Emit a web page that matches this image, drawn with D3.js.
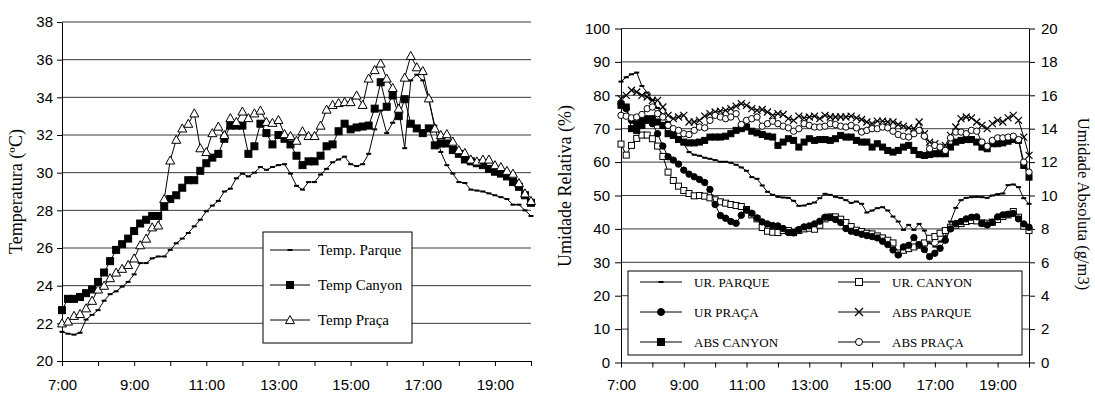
<!DOCTYPE html>
<html>
<head>
<meta charset="utf-8">
<script src="https://cdn.jsdelivr.net/npm/d3@7"></script>
<style>
  body { margin: 0; background: #fff; }
  svg { display: block; }
</style>
</head>
<body>
<svg id="chart" width="1095" height="395"></svg>
<script>
// readings every 10 minutes, 7:00 -> 20:00
const times = d3.range(0, 79).map((i) => 7 + i / 6)
const hourTicks = d3.range(7, 21)
const labelHours = [7, 9, 11, 13, 15, 17, 19]
const hourLabels = ['7:00', '9:00', '11:00', '13:00', '15:00', '17:00', '19:00']

// left chart, temperature (ºC)
const tempParque = [21.55, 21.45, 21.4, 21.5, 22.2, 22.45, 22.7, 23.2, 23.55, 23.7,
  23.95, 24.2, 24.6, 25.2, 25.2, 25.45, 25.55, 25.55, 25.9, 26.25,
  26.5, 26.8, 27.15, 27.5, 27.95, 28.25, 28.5, 29.0, 29.15, 29.7,
  29.95, 29.8, 30.0, 30.3, 30.15, 30.3, 30.4, 30.45, 29.95, 29.3,
  29.1, 29.5, 29.5, 29.9, 30.2, 30.55, 30.7, 30.85, 30.45, 30.35,
  30.45, 31.0, 32.3, 33.3, 32.1, 32.65, 33.35, 31.3, 34.9, 35.2,
  34.9, 33.85, 32.5, 31.1, 30.4, 29.95, 29.5, 29.45, 29.1, 29.05,
  29.0, 28.9, 28.8, 28.7, 28.6, 28.3, 28.3, 28.0, 27.7]
const tempCanyon = [22.7, 23.3, 23.3, 23.4, 23.6, 23.8, 24.2, 24.7, 25.3, 25.9,
  26.2, 26.5, 26.9, 27.3, 27.5, 27.7, 27.7, 28.2, 28.6, 28.8,
  29.2, 29.6, 29.6, 30.1, 30.5, 30.8, 31.0, 31.8, 32.5, 32.5,
  32.5, 31.0, 31.4, 32.6, 32.1, 31.5, 32.0, 31.8, 31.5, 30.9,
  30.4, 30.6, 30.6, 30.9, 31.4, 31.5, 32.2, 32.6, 32.3, 32.4,
  32.45, 32.5, 33.4, 34.8, 33.5, 34.1, 33.0, 33.9, 32.6, 32.35,
  32.1, 32.35, 31.45, 31.55, 31.55, 31.2, 31.0, 30.7, 30.6, 30.5,
  30.4, 30.2, 30.05, 29.95, 29.8, 29.5, 29.25, 28.8, 28.4]
const tempPraca = [22.0, 22.1, 22.4, 22.5, 22.8, 23.2, 23.8, 24.0, 24.4, 24.7,
  24.9, 25.1, 25.45, 26.15, 26.5, 27.1, 27.2, 28.6, 30.65, 31.75,
  32.35, 32.6, 33.15, 31.3, 31.1, 32.1, 32.45, 32.0, 32.9, 32.7,
  33.25, 32.9, 33.15, 33.3, 32.7, 32.65, 32.8, 32.05, 31.95, 31.7,
  32.2, 31.95, 31.95, 32.5, 33.35, 33.6, 33.7, 33.75, 33.75, 34.1,
  33.6, 35.0, 35.45, 35.8, 35.0, 34.5, 33.4, 35.05, 36.2, 35.6,
  35.4, 33.95, 32.35, 32.0, 32.05, 31.65, 31.2, 31.05, 30.7, 30.6,
  30.7, 30.7, 30.4, 30.3, 30.1, 29.95, 29.45, 28.9, 28.5]
const tempTicks = [20, 22, 24, 26, 28, 30, 32, 34, 36, 38]

// right chart, relative humidity (%) on left axis
const urParque = [84.1, 85.4, 86.3, 86.8, 82.8, 80.8, 78.6, 76.2, 74.3, 72.0,
  69.6, 67.2, 65.4, 63.0, 62.2, 61.9, 61.3, 61.0, 60.6, 60.1,
  60.1, 59.8, 59.2, 58.4, 57.4, 55.5, 55.0, 53.0, 51.1, 50.2,
  49.6, 49.4, 49.3, 48.4, 46.9, 47.0, 47.5, 47.9, 49.2, 50.5,
  50.2, 49.6, 49.3, 48.6, 47.8, 48.2, 47.5, 44.9, 45.5, 46.2,
  46.5, 45.5, 43.7, 42.2, 39.7, 41.2, 39.7, 41.5, 39.5, 35.7,
  34.7, 36.2, 37.8, 42.2, 46.3, 48.6, 49.3, 49.5, 49.6, 49.5,
  49.3, 50.0, 50.4, 50.6, 53.1, 53.3, 52.5, 49.2, 47.5]
const urCanyon = [65.4, 62.1, 65.0, 67.1, 68.1, 68.1, 67.0, 64.8, 61.7, 57.0,
  54.5, 52.8, 51.5, 50.6, 49.9, 50.0, 49.8, 49.3, 48.7, 48.1,
  47.7, 47.3, 47.0, 46.7, 45.8, 44.2, 43.0, 40.4, 39.3, 39.0,
  38.9, 39.5, 39.5, 38.9, 39.5, 40.0, 40.2, 39.9, 41.1, 43.0,
  43.6, 43.6, 42.9, 41.9, 40.7, 39.6, 39.2, 38.7, 38.5, 37.9,
  37.3, 36.6, 35.8, 32.8, 33.6, 34.1, 34.6, 35.1, 35.8, 37.2,
  37.7, 38.7, 39.5, 40.5, 41.1, 41.6, 42.2, 42.5, 42.4, 41.8,
  41.7, 42.0, 42.8, 43.7, 44.2, 45.2, 43.5, 40.8, 39.5]
const urPraca = [77.5, 76.0, 72.5, 71.5, 72.5, 73.0, 71.5, 68.5, 64.8, 61.6,
  60.6, 59.4, 57.6, 56.4, 55.6, 54.8, 53.9, 51.8, 47.3, 44.0,
  43.2, 42.2, 41.7, 44.1, 45.6, 44.7, 43.3, 42.1, 41.5, 41.0,
  40.9, 40.1, 38.9, 38.8, 39.8, 40.6, 40.9, 41.5, 42.3, 43.5,
  43.4, 42.8, 41.9, 40.1, 39.3, 38.9, 38.4, 38.0, 37.7, 37.3,
  36.3, 35.3, 33.7, 32.2, 34.6, 35.1, 37.4, 35.3, 33.8, 31.7,
  32.7, 34.2, 36.6, 40.0, 41.6, 42.2, 43.0, 43.5, 43.6, 41.6,
  41.2, 42.0, 43.6, 44.2, 44.4, 44.6, 43.0, 41.5, 40.5]

// right chart, absolute humidity (g/m3) on right axis
const absParque = [15.8, 16.0, 16.3, 16.2, 16.0, 15.9, 15.7, 15.7, 15.3, 14.8,
  14.6, 14.7, 14.8, 14.4, 14.4, 14.5, 14.75, 14.9, 15.0, 15.05,
  15.1, 15.2, 15.35, 15.5, 15.4, 15.2, 15.1, 15.15, 15.0, 14.8,
  14.9, 14.85, 14.6, 14.5, 14.75, 14.65, 14.7, 14.75, 14.6, 14.8,
  14.7, 14.7, 14.7, 14.7, 14.75, 14.65, 14.55, 14.4, 14.3, 14.45,
  14.45, 14.4, 14.4, 14.25, 14.15, 14.05, 14.0, 14.4, 13.7, 13.2,
  13.1, 12.9, 13.0, 13.6, 14.1, 14.6, 14.7, 14.65, 14.4, 14.2,
  14.0, 14.3, 14.5, 14.4, 14.65, 14.8, 14.5, 13.5, 12.4]
const absCanyon = [15.4, 15.3, 14.0, 13.9, 14.2, 14.5, 14.6, 14.4, 14.2, 13.7,
  13.6, 13.35, 13.2, 13.15, 13.15, 13.2, 13.3, 13.5, 13.5, 13.5,
  13.55, 13.7, 13.9, 14.0, 14.1, 13.85, 13.75, 13.65, 13.55, 13.5,
  13.0, 13.2, 13.4, 13.3, 12.9, 13.2, 13.4, 13.3, 13.35, 13.35,
  13.3, 13.4, 13.6, 13.5, 13.5, 13.3, 13.2, 13.2, 12.9, 13.1,
  12.9, 12.7, 12.6, 12.7, 12.9, 13.0, 12.7, 12.45, 12.4, 12.45,
  12.5, 12.5, 12.5, 12.9, 13.2, 13.3, 13.35, 13.35, 13.2, 12.9,
  12.8, 13.1, 13.1, 13.15, 13.25, 13.35, 13.3, 11.8, 11.1]
const absPraca = [14.8, 14.75, 14.65, 14.7, 14.85, 15.2, 15.3, 14.9, 14.7, 14.2,
  14.0, 13.9, 13.7, 13.65, 13.9, 14.1, 14.05, 14.5, 14.8, 14.7,
  14.6, 14.7, 14.9, 14.25, 14.5, 14.6, 14.7, 14.15, 14.3, 14.45,
  14.3, 14.15, 14.05, 13.85, 14.0, 14.3, 14.2, 14.1, 14.1, 14.15,
  14.3, 14.25, 14.15, 14.1, 14.2, 14.05, 13.8, 13.9, 14.0, 14.0,
  14.1, 14.05, 13.85, 13.65, 13.55, 13.5, 13.7, 13.9, 13.55, 12.8,
  13.0, 12.9, 12.7, 13.45, 13.8, 13.8, 13.7, 13.9, 13.85, 13.2,
  12.95, 13.3, 13.45, 13.45, 13.5, 13.55, 13.35, 12.0, 11.4]
const relTicks = [0, 10, 20, 30, 40, 50, 60, 70, 80, 90, 100]
const absTicks = [0, 2, 4, 6, 8, 10, 12, 14, 16, 18, 20]

const SANS = '"Liberation Sans", Arial, sans-serif'
const SERIF = '"Liberation Serif", "Times New Roman", serif'
const GRID = '#3a3a3a'

const svg = d3.select('#chart')

// marker shapes, centred on 0,0
function drawMarker (g, type, s) {
  if (type === 'dash') {
    g.append('rect').attr('x', -s).attr('y', -1).attr('width', s * 2).attr('height', 2)
      .attr('fill', '#000')
  } else if (type === 'square' || type === 'squareOpen') {
    g.append('rect').attr('x', -s).attr('y', -s).attr('width', s * 2).attr('height', s * 2)
      .attr('fill', type === 'square' ? '#000' : '#fff')
      .attr('stroke', '#000').attr('stroke-width', 1)
  } else if (type === 'triangleOpen') {
    g.append('path').attr('d', `M0,${-s} L${s},${s * 0.8} L${-s},${s * 0.8} Z`)
      .attr('fill', '#fff').attr('stroke', '#000').attr('stroke-width', 1)
  } else if (type === 'circle' || type === 'circleOpen') {
    g.append('circle').attr('r', s)
      .attr('fill', type === 'circle' ? '#000' : '#fff')
      .attr('stroke', '#000').attr('stroke-width', 1)
  } else if (type === 'cross') {
    g.append('path').attr('d', `M${-s},${-s} L${s},${s} M${-s},${s} L${s},${-s}`)
      .attr('stroke', '#000').attr('stroke-width', 1.2).attr('fill', 'none')
  }
}

function drawSeries (g, x, y, values, marker, size) {
  let pts = values.map((v, i) => [times[i], v])
  let line = d3.line().x((d) => x(d[0])).y((d) => y(d[1]))
  g.append('path')
    .datum(pts)
    .attr('d', line)
    .attr('fill', 'none')
    .attr('stroke', '#000')
    .attr('stroke-width', 1)
  g.selectAll(null)
    .data(pts)
    .enter()
    .append('g')
    .attr('transform', (d) => `translate(${x(d[0])},${y(d[1])})`)
    .each(function () { drawMarker(d3.select(this), marker, size) })
}

function styleAxis (g, size) {
  g.selectAll('text').attr('font-family', SANS).attr('font-size', size).attr('fill', '#000')
  g.selectAll('line').attr('stroke', '#000')
  g.select('.domain').attr('stroke', '#000')
}

// ---------------- left chart: temperature ----------------
{
  let x = d3.scaleLinear().domain([7, 20]).range([62, 531])
  let y = d3.scaleLinear().domain([20, 38]).range([361, 22])
  let g = svg.append('g')

  g.selectAll('.grid')
    .data(tempTicks.slice(1))
    .enter()
    .append('line')
    .attr('x1', x(7)).attr('x2', x(20))
    .attr('y1', (d) => y(d)).attr('y2', (d) => y(d))
    .attr('stroke', GRID).attr('stroke-width', 1)

  g.append('g')
    .attr('transform', `translate(${x(7)},0)`)
    .call(d3.axisLeft(y).tickValues(tempTicks).tickSize(5).tickSizeOuter(0).tickPadding(4))
    .call((a) => styleAxis(a, 15))

  g.append('g')
    .attr('transform', `translate(0,${y(20)})`)
    .call(d3.axisBottom(x).tickValues(hourTicks).tickSize(5).tickSizeOuter(0)
      .tickFormat((h) => { let k = labelHours.indexOf(h); return k >= 0 ? hourLabels[k] : '' }))
    .call((a) => styleAxis(a, 15))
    .call((a) => a.selectAll('text').attr('y', 18).attr('dy', '0.71em'))

  g.append('text')
    .attr('transform', `translate(22,${(y(20) + y(38)) / 2}) rotate(-90)`)
    .attr('text-anchor', 'middle')
    .attr('font-family', SERIF).attr('font-size', 18)
    .text('Temperatura (ºC)')

  drawSeries(g, x, y, tempParque, 'dash', 2.5)
  drawSeries(g, x, y, tempCanyon, 'square', 3.5)
  drawSeries(g, x, y, tempPraca, 'triangleOpen', 4.5)

  // legend
  let lg = g.append('g')
  lg.append('rect').attr('x', 263).attr('y', 232).attr('width', 149).attr('height', 111)
    .attr('fill', '#fff').attr('stroke', '#000').attr('stroke-width', 1)
  let items = [['Temp. Parque', 'dash', 2.5], ['Temp Canyon', 'square', 3.5], ['Temp Praça', 'triangleOpen', 4.5]]
  items.forEach((it, k) => {
    let cy = 250 + k * 35
    lg.append('line').attr('x1', 270).attr('x2', 310).attr('y1', cy).attr('y2', cy)
      .attr('stroke', '#000')
    drawMarker(lg.append('g').attr('transform', `translate(290,${cy})`), it[1], it[2])
    lg.append('text').attr('x', 318).attr('y', cy + 5)
      .attr('font-family', SERIF).attr('font-size', 15)
      .text(it[0])
  })
}

// ---------------- right chart: humidity ----------------
{
  let x = d3.scaleLinear().domain([7, 20]).range([621, 1029])
  let yRel = d3.scaleLinear().domain([0, 100]).range([362.5, 28.5])
  let yAbs = d3.scaleLinear().domain([0, 20]).range([362.5, 28.5])
  let g = svg.append('g')

  g.selectAll('.grid')
    .data(relTicks.slice(1))
    .enter()
    .append('line')
    .attr('x1', x(7)).attr('x2', x(20))
    .attr('y1', (d) => yRel(d)).attr('y2', (d) => yRel(d))
    .attr('stroke', GRID).attr('stroke-width', 1)

  g.append('g')
    .attr('transform', `translate(${x(7)},0)`)
    .call(d3.axisLeft(yRel).tickValues(relTicks).tickSize(6).tickSizeOuter(0).tickPadding(5))
    .call((a) => styleAxis(a, 15))

  g.append('g')
    .attr('transform', `translate(${x(20)},0)`)
    .call(d3.axisRight(yAbs).tickValues(absTicks).tickSize(6).tickSizeOuter(0).tickPadding(6))
    .call((a) => styleAxis(a, 15))

  g.append('g')
    .attr('transform', `translate(0,${yRel(0)})`)
    .call(d3.axisBottom(x).tickValues(hourTicks).tickSize(5).tickSizeOuter(0)
      .tickFormat((h) => { let k = labelHours.indexOf(h); return k >= 0 ? hourLabels[k] : '' }))
    .call((a) => styleAxis(a, 15))
    .call((a) => a.selectAll('text').attr('y', 17).attr('dy', '0.71em'))

  g.append('text')
    .attr('transform', `translate(571,186) rotate(-90)`)
    .attr('text-anchor', 'middle')
    .attr('font-family', SERIF).attr('font-size', 18)
    .text('Umidade Relativa (%)')

  g.append('text')
    .attr('transform', `translate(1078,204) rotate(90)`)
    .attr('text-anchor', 'middle')
    .attr('font-family', SERIF).attr('font-size', 16.5)
    .text('Umidade Absoluta (g/m3)')

  drawSeries(g, x, yRel, urParque, 'dash', 2.5)
  drawSeries(g, x, yRel, urCanyon, 'squareOpen', 3)
  drawSeries(g, x, yRel, urPraca, 'circle', 3.2)
  drawSeries(g, x, yAbs, absParque, 'cross', 3.5)
  drawSeries(g, x, yAbs, absCanyon, 'square', 3)
  drawSeries(g, x, yAbs, absPraca, 'circleOpen', 3.2)

  // legend, two columns
  let lg = g.append('g')
  lg.append('rect').attr('x', 628).attr('y', 271).attr('width', 394).attr('height', 84)
    .attr('fill', '#fff').attr('stroke', '#000').attr('stroke-width', 1)
  let items = [
    ['UR. PARQUE', 'dash', 2.5, 0, 0], ['UR. CANYON', 'squareOpen', 3.5, 1, 0],
    ['UR PRAÇA', 'circle', 3.5, 0, 1], ['ABS PARQUE', 'cross', 4, 1, 1],
    ['ABS CANYON', 'square', 3.5, 0, 2], ['ABS PRAÇA', 'circleOpen', 3.5, 1, 2]
  ]
  items.forEach((it) => {
    let x0 = it[3] ? 838 : 640
    let cy = 282 + it[4] * 30
    lg.append('line').attr('x1', x0).attr('x2', x0 + 42).attr('y1', cy).attr('y2', cy)
      .attr('stroke', '#000')
    drawMarker(lg.append('g').attr('transform', `translate(${x0 + 21},${cy})`), it[1], it[2])
    lg.append('text').attr('x', x0 + 54).attr('y', cy + 4.5)
      .attr('font-family', SERIF).attr('font-size', 13)
      .text(it[0])
  })
}
</script>
</body>
</html>
